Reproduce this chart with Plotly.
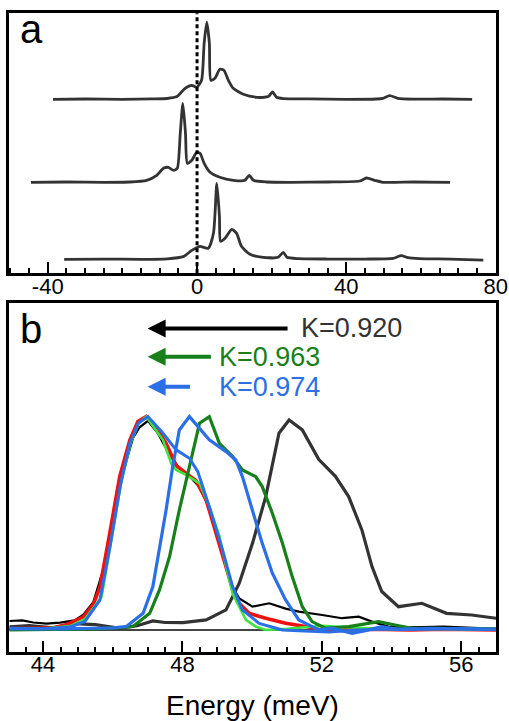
import plotly.graph_objects as go

FONT = "Liberation Sans, Arial, sans-serif"

# ---------------- Panel a: three spectra (intensity above own baseline) ----------------
a_top_x = [-38.6, -30, -20, -12, -8, -5.4, -3.2, -1.4, -0.1, 1.2, 1.9, 2.6, 3.3, 3.7, 4.8, 6.1, 7.2,
           8.4, 9.7, 12.4, 16.0, 19.1, 20.2, 21.3, 23.1, 30, 40, 48, 49.8, 51.6, 53.8, 58, 66, 73.7]
a_top_y = [0, 0.3, 0, 0.4, 0.8, 2.7, 11, 14, 12, 19, 56, 77, 56, 19, 21, 30, 29,
           19, 11, 5, 2, 2.7, 7.3, 2, 0.7, 0.4, 0, 0.3, 1, 3.7, 1, 0.2, 0.3, 0]

a_mid_x = [-44.5, -35, -25, -18, -13.5, -10.8, -9.0, -7.7, -6.3, -5.3, -4.5, -3.8, -3.1, -2.6, -1.4,
           -0.1, 0.8, 1.9, 3.5, 6.1, 9.7, 12.8, 14.0, 15.1, 18.6, 25, 35, 43.6, 45.4, 47.6, 49.8, 58, 67.8]
a_mid_y = [0, 0.3, 0, 0.3, 2, 7, 14, 15, 12, 14, 49, 79, 49, 19, 22,
           30, 29, 19, 10, 5, 2, 2, 7, 2, 0.3, 0, 0.3, 1.3, 4.3, 2, 0, 0.3, 0]

a_bot_x = [-35.6, -25, -15, -8, -3.7, -1.4, 0.8, 3.0, 4.4, 5.3, 6.0, 6.3, 7.5, 9.3, 10.6, 11.9,
           14.2, 17.7, 21.7, 23.1, 24.1, 27.2, 35, 45, 52.5, 54.7, 56.5, 59.6, 68, 76.7]
a_bot_y = [0, 0.3, 0, 0.5, 2.7, 9, 13, 11, 26, 76, 43, 18, 21, 30, 26, 13,
           5, 2, 2, 7, 2, 0.7, 0.3, 0.3, 1, 3.7, 1.7, 0.7, 0.3, -0.7]

a_offsets = [174, 91, 14]
a_ticks = [-40, 0, 40, 80]
a_ticktext = ["-40", "0", "40", "80"]

# ---------------- Panel b: normalized spectra ----------------
b_red_x = [43.03, 43.7, 44.3, 44.68, 45.15, 45.44, 45.63, 45.91, 46.2, 46.49, 46.72, 46.96, 47.2, 47.53,
           47.82, 48.10, 48.39, 48.68, 48.96, 49.25, 49.44, 49.63, 49.91, 50.39, 50.96, 51.53, 51.91,
           52.5, 53.5, 54.5, 55.5, 57.0]
b_red_y = [0.005, 0.006, 0.010, 0.025, 0.06, 0.12, 0.20, 0.45, 0.72, 0.89, 0.977, 1.0, 0.96, 0.875,
           0.77, 0.735, 0.70, 0.61, 0.453, 0.297, 0.19, 0.125, 0.078, 0.055, 0.031, 0.016, 0.003,
           -0.002, 0.004, 0.0, 0.003, 0.0]

b_lgreen_x = [43.03, 44.0, 44.8, 45.2, 45.68, 45.95, 46.25, 46.52, 46.75, 46.96, 47.44, 47.68, 47.82,
              48.10, 48.49, 48.77, 49.06, 49.25, 49.44, 49.63, 49.82, 50.1, 50.39, 51.0, 52.0, 53.0,
              54.0, 55.0, 57.0]
b_lgreen_y = [0.004, 0.006, 0.02, 0.05, 0.156, 0.42, 0.70, 0.88, 0.97, 1.0, 0.89, 0.78, 0.75,
              0.727, 0.6875, 0.58, 0.44, 0.30, 0.17, 0.109, 0.047, 0.016, 0.0, 0.005, 0.02, 0.01,
              0.003, 0.005, 0.002]

b_black_x = [43.03, 43.4, 43.72, 44.1, 44.49, 44.9, 45.15, 45.44, 45.72, 46.01, 46.3, 46.58, 46.77,
             47.01, 47.3, 47.6, 47.9, 48.2, 48.49, 48.77, 49.06, 49.3, 49.44, 49.63, 50.01, 50.49,
             50.96, 51.34, 52.01, 52.58, 53.06, 53.44, 53.91, 54.5, 55.5, 56.5, 57.0]
b_black_y = [0.042, 0.045, 0.035, 0.03, 0.034, 0.045, 0.07, 0.13, 0.28, 0.50, 0.74, 0.90, 0.95,
             0.98, 0.92, 0.83, 0.76, 0.72, 0.67, 0.57, 0.42, 0.27, 0.20, 0.148, 0.109, 0.125,
             0.10, 0.086, 0.070, 0.055, 0.0625, 0.039, 0.016, 0.012, 0.016, 0.010, 0.005]

b_blue1_x = [43.03, 44.0, 44.8, 45.2, 45.63, 45.93, 46.22, 46.49, 46.74, 47.01, 47.4, 47.82, 48.20,
             48.44, 48.77, 49.15, 49.44, 49.72, 50.20, 50.87, 51.5, 52.2, 53.0, 54.0, 55.0, 56.0, 57.0]
b_blue1_y = [0.005, 0.005, 0.015, 0.04, 0.14, 0.40, 0.68, 0.875, 0.97, 1.0, 0.93, 0.844, 0.805,
             0.742, 0.578, 0.375, 0.203, 0.094, 0.031, 0.0, -0.005, -0.01, 0.0, 0.005, 0.003, 0.006, 0.003]

b_blue2_x = [43.03, 44.5, 45.5, 46.0, 46.39, 46.87, 47.15, 47.34, 47.53, 47.72, 47.91, 48.2, 48.77,
             49.25, 49.53, 49.72, 50.01, 50.29, 50.58, 50.96, 51.34, 51.91, 52.3, 52.87, 53.25,
             53.72, 54.2, 55.15, 56.87, 57.0]
b_blue2_y = [0.008, 0.005, 0.008, 0.01, 0.016, 0.078, 0.203, 0.375, 0.5625, 0.766, 0.9375, 1.0, 0.891,
             0.836, 0.797, 0.719, 0.5625, 0.406, 0.266, 0.141, 0.047, 0.0, 0.008, -0.016, -0.003,
             0.016, 0.003, 0.008, 0.003, 0.003]

b_dgreen_x = [43.03, 44.5, 45.5, 46.1, 46.58, 47.06, 47.34, 47.63, 47.91, 48.2, 48.49, 48.77, 49.06,
              49.44, 49.72, 50.1, 50.29, 50.58, 50.87, 51.15, 51.44, 51.72, 52.1, 52.77, 53.25,
              53.63, 54.1, 54.58, 55.15, 57.0]
b_dgreen_y = [0.0, 0.003, 0.005, 0.01, 0.016, 0.078, 0.1875, 0.344, 0.5625, 0.766, 0.969, 1.0, 0.875,
              0.8125, 0.75, 0.719, 0.672, 0.547, 0.406, 0.25, 0.109, 0.039, 0.008, 0.016, 0.027,
              0.039, 0.023, 0.008, 0.008, 0.005]

b_gray_x = [43.03, 43.6, 44.3, 44.87, 45.5, 46.2, 46.7, 47.15, 47.5, 48.01, 48.68, 49.25, 49.63,
            50.01, 50.39, 50.77, 51.06, 51.44, 51.91, 52.39, 52.77, 53.15, 53.44, 53.72, 54.2,
            54.87, 55.58, 56.3, 57.0]
b_gray_y = [0.015, 0.02, 0.01, 0.03, 0.025, 0.008, 0.02, 0.042, 0.035, 0.034, 0.047, 0.094, 0.219,
            0.406, 0.625, 0.922, 0.984, 0.9375, 0.80, 0.72, 0.625, 0.469, 0.297, 0.18, 0.109,
            0.125, 0.078, 0.07, 0.055]

b_ticks = [44, 48, 52, 56]
k_labels = ["K=0.920", "K=0.963", "K=0.974"]
k_arrow_tail = [51.06, 48.86, 48.26]
k_arrow_head = [47.0, 47.0, 47.0]
k_text_x = [51.35, 49.0, 49.0]
k_y = [1.413, 1.28, 1.14]

fig = go.Figure()

line_a = dict(color="#333333", width=2.8, shape="spline", smoothing=0.6)
for xs, ys, off in zip([a_top_x, a_mid_x, a_bot_x], [a_top_y, a_mid_y, a_bot_y], a_offsets):
    fig.add_trace(go.Scatter(x=xs, y=[v + off for v in ys], mode="lines", line=line_a,
                             xaxis="x", yaxis="y", showlegend=False, hoverinfo="skip"))

b_series = [
    (b_gray_x, b_gray_y, "#333333", 3.2),
    (b_black_x, b_black_y, "#000000", 2.2),
    (b_red_x, b_red_y, "#ee1111", 3.6),
    (b_lgreen_x, b_lgreen_y, "#3ee43e", 2.6),
    (b_dgreen_x, b_dgreen_y, "#17801b", 3.2),
    (b_blue1_x, b_blue1_y, "#2b6fe6", 3.0),
    (b_blue2_x, b_blue2_y, "#2b6fe6", 3.2),
]
for xs, ys, c, w in b_series:
    fig.add_trace(go.Scatter(x=xs, y=ys, mode="lines", line=dict(color=c, width=w),
                             xaxis="x2", yaxis="y2", showlegend=False, hoverinfo="skip"))

# dotted vertical line at 0 in panel a
fig.add_shape(type="line", xref="x", yref="y domain", x0=0, x1=0, y0=0, y1=1,
              line=dict(color="black", width=3, dash="4px,3px"))

axis_common = dict(showline=True, mirror=True, linewidth=3, linecolor="black", showgrid=False,
                   zeroline=False)
fig.update_layout(
    width=509, height=721,
    margin=dict(l=0, r=0, t=0, b=0, autoexpand=False),
    plot_bgcolor="white", paper_bgcolor="white",
    font=dict(family=FONT, color="black"),
    xaxis=dict(domain=[0.0183, 0.9745], anchor="y", range=[-50.3, 80.1],
               tickvals=a_ticks, ticktext=a_ticktext, ticks="inside", ticklen=11, tickwidth=2,
               tickcolor="black", tickfont=dict(size=22, family=FONT), ticklabelstandoff=-9,
               minor=dict(ticks="inside", dtick=5, ticklen=5, tickwidth=2, tickcolor="black"),
               **axis_common),
    yaxis=dict(domain=[0.6209, 0.9816], anchor="x", range=[0, 260], showticklabels=False,
               ticks="", **axis_common),
    xaxis2=dict(domain=[0.0183, 0.9745], anchor="y2", range=[43.03, 57.0],
                tickvals=b_ticks, ticks="inside", ticklen=11, tickwidth=2, tickcolor="black",
                tickfont=dict(size=22, family=FONT), ticklabelstandoff=-9,
                minor=dict(ticks="inside", dtick=0.5, ticklen=5, tickwidth=2, tickcolor="black"),
                **axis_common),
    yaxis2=dict(domain=[0.0961, 0.5793], anchor="x2", range=[-0.102, 1.531], showticklabels=False,
                ticks="", showline=True, mirror=True, linewidth=3, linecolor="black",
                showgrid=False, zeroline=True, zerolinecolor="#444444", zerolinewidth=2),
)

anns = [
    dict(text="a", xref="paper", yref="paper", x=0.036, y=0.960, xanchor="left", yanchor="middle",
         showarrow=False, font=dict(size=40, family=FONT, color="black")),
    dict(text="b", xref="paper", yref="paper", x=0.036, y=0.543, xanchor="left", yanchor="middle",
         showarrow=False, font=dict(size=40, family=FONT, color="black")),
    dict(text="Energy (meV)", xref="paper", yref="paper", x=0.4965, y=1 - 705 / 721,
         xanchor="center", yanchor="middle", showarrow=False,
         font=dict(size=28, family=FONT, color="black")),
]
k_colors = ["#333333", "#17801b", "#2b6fe6"]
arrow_colors = ["#000000", "#17801b", "#2b6fe6"]
for lab, tail, head, tx, yy, tc, ac in zip(k_labels, k_arrow_tail, k_arrow_head, k_text_x, k_y,
                                             k_colors, arrow_colors):
    anns.append(dict(text="", xref="x2", yref="y2", x=head, y=yy, axref="x2", ayref="y2",
                     ax=tail, ay=yy, showarrow=True, arrowhead=2, arrowsize=0.9, arrowwidth=4,
                     arrowcolor=ac))
    anns.append(dict(text=lab, xref="x2", yref="y2", x=tx, y=yy, xanchor="left", yanchor="middle",
                     showarrow=False, font=dict(size=27, family=FONT, color=tc)))
fig.update_layout(annotations=anns)

fig.write_html(
    "out.html",
    config={"displayModeBar": False},
    post_script=("document.documentElement.style.margin='0';document.body.style.margin='0';"
                 "document.documentElement.style.overflow='hidden';document.body.style.overflow='hidden';"),
)
